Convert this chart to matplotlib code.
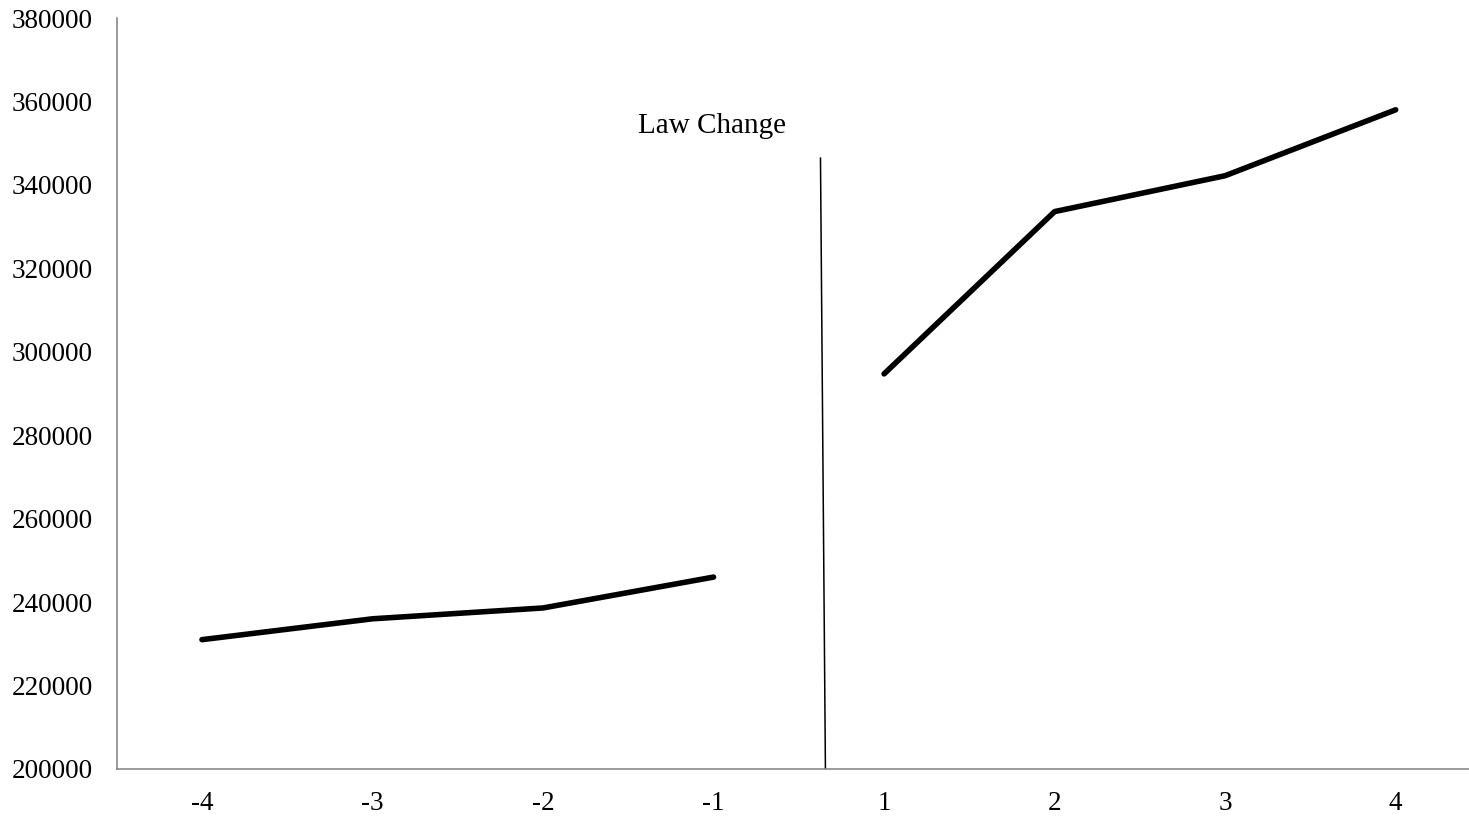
import matplotlib
matplotlib.use('Agg')
import matplotlib.pyplot as plt

labels = ["-4", "-3", "-2", "-1", "1", "2", "3", "4"]
before = [231000, 236000, 238600, 246000]
after = [294700, 333600, 342200, 358000]
yticks = [200000, 220000, 240000, 260000, 280000, 300000, 320000, 340000, 360000, 380000]

plt.rcParams['font.family'] = ['Liberation Serif', 'DejaVu Serif']

fig = plt.figure(figsize=(14.69, 8.16), dpi=100)
ax = fig.add_axes([116.7 / 1469, 47 / 816, 1 - 116.7 / 1469, 751 / 816])

x = list(range(len(labels)))
ax.plot(x[:4], before, color="black", lw=4, solid_capstyle="round")
ax.plot(x[4:], after, color="black", lw=4, solid_capstyle="round")

# law change marker, drawn slightly slanted like the original
ax.plot([3.627, 3.656], [346400, 200000], color="black", lw=1.1)
ax.text(2.99, 354000, "Law Change", ha="center", va="center", fontsize=21)

ax.set_xlim(-0.5, 7.43)
ax.set_ylim(200000, 380000)
ax.set_xticks(x)
ax.set_xticklabels(labels)
ax.set_yticks(yticks)
ax.tick_params(length=0, labelsize=19.5)
ax.tick_params(axis="y", pad=17)
ax.tick_params(axis="x", pad=16)

for side in ["top", "right"]:
    ax.spines[side].set_visible(False)
for side in ["left", "bottom"]:
    ax.spines[side].set_color("#808080")
    ax.spines[side].set_linewidth(1.1)

plt.savefig("out.png", dpi=100)
plt.close()
